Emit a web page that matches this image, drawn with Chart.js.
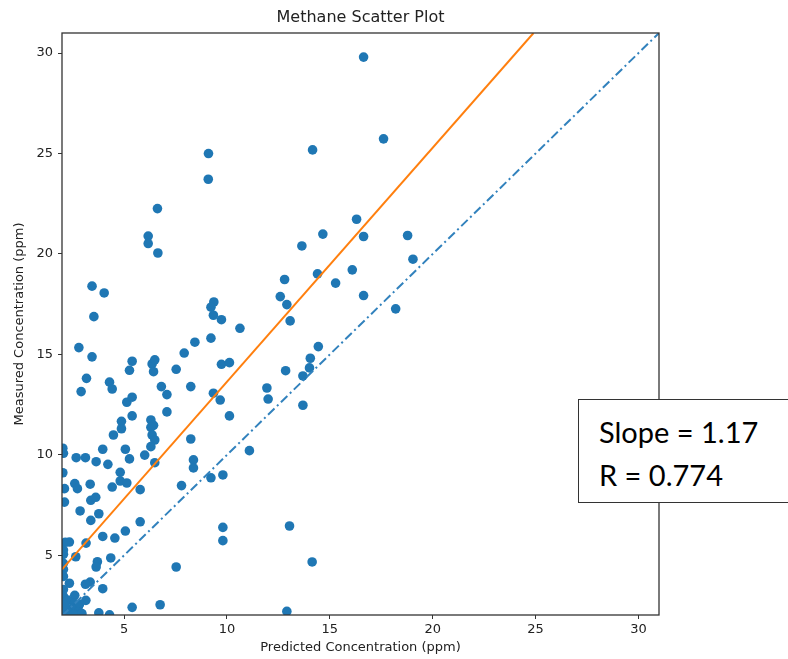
<!DOCTYPE html>
<html lang="en">
<head>
    <meta charset="UTF-8">
    <title>Methane Scatter Plot</title>
    <script src="https://cdn.jsdelivr.net/npm/chart.js"></script>
    <style>
        body {
            margin: 0;
            overflow: hidden;
            background: #fff;
        }
        #chart-container {
            position: relative;
            width: 788px;
            height: 659px;
            overflow: hidden;
        }
        #stats-box {
            position: absolute;
            left: 578px;
            top: 399px;
            width: 260px;
            height: 104px;
            box-sizing: border-box;
            border: 1.5px solid #333;
            background: #fff;
            padding: 10px 0 0 20px;
            font-family: Lato, "Open Sans", sans-serif;
            font-size: 29px;
            line-height: 43px;
            color: #000;
        }
    </style>
</head>
<body>
    <div id="chart-container">
        <canvas id="methane-chart"></canvas>
        <div id="stats-box">Slope = 1.17<br>R = 0.774</div>
    </div>

    <script>
        // scatter points (ppm)
        const predicted = [
            16.64, 17.61, 14.16, 9.10, 9.09, 6.62, 6.17, 6.17, 6.64, 16.30, 16.64, 14.66, 13.64, 16.09, 14.40, 12.80,
            15.28, 12.59, 16.64, 12.91, 18.20, 13.07, 3.44, 4.03, 3.53, 9.36, 9.22, 9.34, 9.73, 10.63, 18.78, 19.04,
            2.80, 3.44, 3.17, 2.91, 4.29, 4.42, 5.26, 5.39, 5.13, 5.39, 5.39, 4.87, 4.87, 4.48, 3.96, 5.06, 5.26, 4.21,
            3.64, 2.67, 3.12, 2.02, 2.05, 2.02, 2.10, 2.10, 2.60, 2.73, 3.35, 2.86, 3.38, 3.62, 3.77, 3.38, 4.42, 4.81,
            4.81, 5.13, 5.78, 6.00, 5.78, 5.06, 4.55, 3.96, 3.15, 2.34, 2.14, 2.05, 2.65, 4.35, 3.70, 3.64, 2.05, 7.53,
            3.96, 3.35, 3.12, 2.34, 2.60, 3.14, 2.83, 5.39, 6.75, 3.77, 4.29, 12.91,
            6.36, 6.49, 6.43, 6.81, 7.08, 7.08, 6.30, 6.43, 6.30, 6.36, 6.49, 6.30, 6.49, 7.53, 7.92, 8.44, 8.24, 8.24,
            8.37, 8.37, 7.79, 9.22, 9.34, 9.67, 9.73, 10.12, 10.12, 11.09, 9.22, 9.80, 9.80, 9.80, 13.04, 14.14, 11.94,
            12.00, 12.85, 13.69, 13.69, 14.01, 14.05, 14.44,
            2.05, 2.05, 2.05, 2.05, 2.05, 2.05, 2.05, 2.05, 2.26, 2.58, 2.78, 2.45, 2.26, 2.78, 2.55, 2.95, 2.10
        ];
        const measured = [
            29.80, 25.73, 25.18, 25.00, 23.72, 22.26, 20.89, 20.52, 20.05, 21.73, 20.87, 20.99, 20.40, 19.21, 19.01, 18.73,
            18.55, 17.88, 17.93, 17.48, 17.27, 16.67, 18.40, 18.06, 16.88, 17.61, 17.35, 16.95, 16.73, 16.30, 20.92, 19.74,
            15.34, 14.88, 13.81, 13.15, 13.62, 13.28, 14.21, 14.66, 12.62, 12.87, 11.94, 11.67, 11.30, 10.99, 10.28, 10.28, 9.80, 9.53,
            9.66, 9.86, 9.86, 10.33, 10.08, 9.11, 8.32, 7.65, 8.57, 8.32, 8.54, 7.21, 7.74, 7.89, 7.07, 6.74, 8.40, 9.13,
            8.70, 8.60, 8.27, 9.99, 6.67, 6.21, 5.86, 5.94, 5.61, 5.66, 5.65, 5.26, 4.93, 4.87, 4.68, 4.42, 4.60, 4.42,
            3.34, 3.67, 3.56, 3.61, 3.01, 2.76, 2.57, 2.41, 2.54, 2.14, 2.04, 2.21,
            14.53, 14.73, 14.14, 13.40, 13.00, 12.14, 11.74, 11.47, 11.37, 10.99, 10.74, 10.41, 9.61, 14.26, 15.07, 15.61, 13.40, 10.79,
            9.75, 9.35, 8.47, 15.81, 13.07, 12.73, 14.51, 14.59, 11.94, 10.21, 8.86, 9.00, 6.39, 5.73, 6.46, 4.67, 13.33,
            12.78, 14.19, 12.47, 13.93, 14.33, 14.81, 15.39,
            5.05, 4.30, 3.95, 3.30, 2.95, 2.60, 2.30, 2.05, 2.77, 2.61, 2.45, 2.36, 2.20, 2.19, 2.08, 2.10, 2.50
        ];

        // fitted line (slope 1.17) and the 1:1 line, end points
        const fitX = [1.98, 24.9];
        const fitY = [4.30, 31.0];
        const oneToOneX = [1.98, 31.0];
        const oneToOneY = [1.98, 31.0];

        const xRange = [1.98, 31.0];
        const yRange = [2.03, 31.0];
        const tickStep = 5;

        const toPoints = (xs, ys) => xs.map((x, i) => ({ x: x, y: ys[i] }));

        const tickFont = { family: 'DejaVu Sans', size: 13 };
        const inkColor = '#222';

        // matplotlib-style box around the axes
        const frame = {
            id: 'frame',
            afterDraw(chart) {
                const a = chart.chartArea;
                const c = chart.ctx;
                c.save();
                c.strokeStyle = '#333';
                c.lineWidth = 1.3;
                c.strokeRect(a.left, a.top, a.right - a.left, a.bottom - a.top);
                c.restore();
            }
        };

        const ctx = document.getElementById('methane-chart').getContext('2d');
        new Chart(ctx, {
            type: 'scatter',
            data: {
                datasets: [
                    {
                        type: 'line',
                        label: 'Fit',
                        data: toPoints(fitX, fitY),
                        borderColor: '#ff7f0e',
                        borderWidth: 2,
                        pointRadius: 0,
                        fill: false,
                        clip: 0
                    },
                    {
                        type: 'line',
                        label: '1:1',
                        data: toPoints(oneToOneX, oneToOneY),
                        borderColor: '#3282bd',
                        borderWidth: 2,
                        borderDash: [9, 3.5, 2, 3.5],
                        pointRadius: 0,
                        fill: false,
                        clip: 0
                    },
                    {
                        label: 'Methane',
                        data: toPoints(predicted, measured),
                        backgroundColor: '#1f77b4',
                        borderWidth: 0,
                        pointRadius: 4.8,
                        pointHoverRadius: 4.8,
                        clip: 0
                    }
                ]
            },
            options: {
                responsive: true,
                maintainAspectRatio: false,
                animation: false,
                layout: { padding: { left: 0, right: 129, top: 0, bottom: 0 } },
                plugins: {
                    legend: { display: false },
                    tooltip: { enabled: false }
                },
                scales: {
                    x: {
                        type: 'linear',
                        min: xRange[0],
                        max: xRange[1],
                        border: { display: false },
                        grid: { drawOnChartArea: false, drawTicks: true, tickLength: 4, color: '#333' },
                        ticks: { stepSize: tickStep, includeBounds: false, color: inkColor, font: tickFont, padding: 3, maxRotation: 0 },
                        title: {
                            display: true,
                            text: 'Predicted Concentration (ppm)',
                            color: inkColor,
                            font: tickFont,
                            padding: { top: 2, bottom: 4 }
                        },
                        afterFit(scale) { scale.height = 44; }
                    },
                    // top axis only carries the plot title, centred over the axes
                    top: {
                        type: 'linear',
                        position: 'top',
                        min: xRange[0],
                        max: xRange[1],
                        border: { display: false },
                        grid: { display: false },
                        ticks: { display: false },
                        title: {
                            display: true,
                            text: 'Methane Scatter Plot',
                            color: inkColor,
                            font: { family: 'DejaVu Sans', size: 16 },
                            padding: { top: 8.4, bottom: 2 }
                        },
                        afterFit(scale) { scale.height = 33; }
                    },
                    y: {
                        type: 'linear',
                        min: yRange[0],
                        max: yRange[1],
                        border: { display: false },
                        grid: { drawOnChartArea: false, drawTicks: true, tickLength: 4, color: '#333' },
                        ticks: { stepSize: tickStep, includeBounds: false, color: inkColor, font: tickFont, padding: 5 },
                        title: {
                            display: true,
                            text: 'Measured Concentration (ppm)',
                            color: inkColor,
                            font: tickFont,
                            padding: { top: 12, bottom: 2 }
                        },
                        afterFit(scale) { scale.width = 62; }
                    }
                }
            },
            plugins: [frame]
        });
    </script>
</body>
</html>
